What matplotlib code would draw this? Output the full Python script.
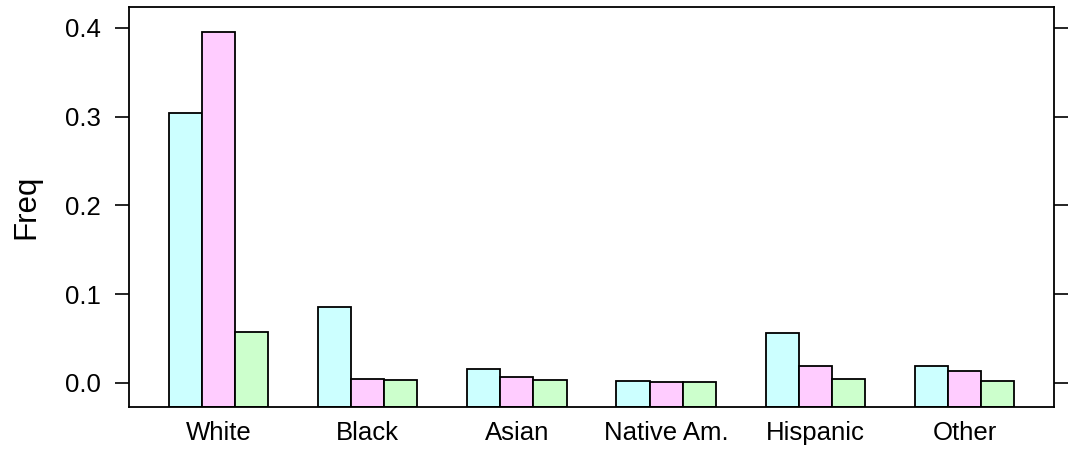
import matplotlib
matplotlib.use("Agg")
import matplotlib.pyplot as plt
import numpy as np

plt.rcParams['font.family'] = ['Liberation Sans', 'DejaVu Sans']

# Relative frequency of each race/ethnicity group, three series per group
categories = ["White", "Black", "Asian", "Native Am.", "Hispanic", "Other"]
series_a = [0.3036, 0.0858, 0.0158, 0.0020, 0.0561, 0.0192]
series_b = [0.3958, 0.0042, 0.0068, 0.0007, 0.0192, 0.0135]
series_c = [0.0569, 0.0032, 0.0036, 0.0003, 0.0045, 0.0023]
yticks = [0.0, 0.1, 0.2, 0.3, 0.4]

colors = ["#CCFFFF", "#FFCCFF", "#CCFFCC"]

fig = plt.figure(figsize=(10.75, 4.51), dpi=100)
ax = fig.add_axes([129 / 1075, 1 - 407.3 / 451, (1054 - 129) / 1075, (407.3 - 7) / 451])

all_vals = np.concatenate([series_a, series_b, series_c])
lo, hi = 0.0, all_vals.max()
pad = 0.07 * (hi - lo)
ymin, ymax = lo - pad, hi + pad

x = np.arange(1, len(categories) + 1)
group_w = 2 / 3
bw = group_w / 3
for i, (vals, col) in enumerate(zip([series_a, series_b, series_c], colors)):
    pos = x - group_w / 2 + bw * (i + 0.5)
    heights = np.array(vals) - ymin
    ax.bar(pos, heights, width=bw, bottom=ymin, color=col,
           edgecolor="black", linewidth=1.3, zorder=2)

ax.set_xlim(0.4, len(categories) + 0.6)
ax.set_ylim(ymin, ymax)
ax.set_xticks(x)
ax.set_xticklabels(categories, fontsize=18.5)
ax.set_yticks(yticks)
ax.set_yticklabels([f"{v:.1f}" for v in yticks], fontsize=18.5)
ax.tick_params(axis="x", length=0, pad=10)
ax.tick_params(axis="y", direction="out", length=10, width=1.2, pad=10,
               right=True, labelright=False)
ax.set_ylabel("Freq", fontsize=22.5, labelpad=17)
for s in ax.spines.values():
    s.set_linewidth(1.3)

fig.savefig("out.png", dpi=100)
